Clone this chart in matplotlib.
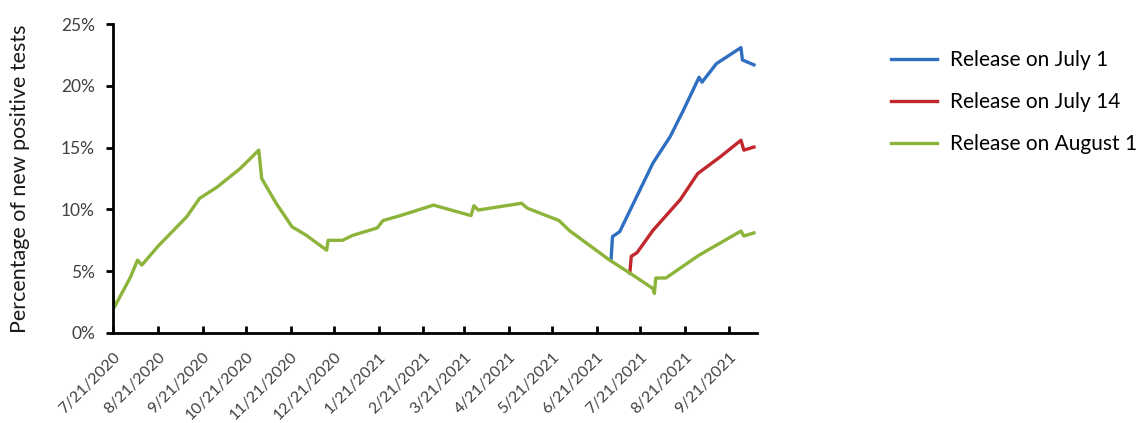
import matplotlib
matplotlib.use("Agg")
import matplotlib.pyplot as plt
import numpy as np

plt.rcParams['font.family'] = ['Lato', 'DejaVu Sans']

# values (percent of new positive tests)
green_dates = ['2020-07-21', '2020-07-22', '2020-08-02', '2020-08-07', '2020-08-10',
               '2020-08-21', '2020-09-10', '2020-09-19', '2020-10-01', '2020-10-17',
               '2020-10-30', '2020-11-01', '2020-11-11', '2020-11-22', '2020-12-02',
               '2020-12-16', '2020-12-17', '2020-12-27', '2021-01-03', '2021-01-20',
               '2021-01-24', '2021-02-05', '2021-02-28', '2021-03-26', '2021-03-28',
               '2021-03-31', '2021-04-30', '2021-05-04', '2021-05-26', '2021-06-02',
               '2021-06-30', '2021-07-14', '2021-07-30', '2021-07-31', '2021-08-01',
               '2021-08-08', '2021-08-31', '2021-09-29', '2021-10-01', '2021-10-08']
green_vals = [2.9, 2.1, 4.5, 5.9, 5.5,
              7.0, 9.4, 10.9, 11.8, 13.3,
              14.8, 12.5, 10.5, 8.6, 7.9,
              6.7, 7.5, 7.5, 7.9, 8.5,
              9.1, 9.5, 10.35, 9.5, 10.3,
              9.95, 10.5, 10.1, 9.1, 8.3,
              5.9, 4.85, 3.6, 3.2, 4.45,
              4.45, 6.3, 8.25, 7.85, 8.1]

blue_dates = ['2021-07-01', '2021-07-02', '2021-07-07', '2021-07-30', '2021-08-11',
              '2021-08-20', '2021-08-31', '2021-09-02', '2021-09-12', '2021-09-29',
              '2021-09-30', '2021-10-08']
blue_vals = [5.9, 7.8, 8.2, 13.75, 15.9,
             18.0, 20.7, 20.3, 21.8, 23.1,
             22.1, 21.7]

red_dates = ['2021-07-14', '2021-07-15', '2021-07-19', '2021-07-30', '2021-08-18',
             '2021-08-30', '2021-09-14', '2021-09-29', '2021-10-01', '2021-10-08']
red_vals = [4.85, 6.2, 6.5, 8.3, 10.8,
            12.9, 14.2, 15.6, 14.8, 15.05]

tick_dates = ['2020-07-21', '2020-08-21', '2020-09-21', '2020-10-21', '2020-11-21',
              '2020-12-21', '2021-01-21', '2021-02-21', '2021-03-21', '2021-04-21',
              '2021-05-21', '2021-06-21', '2021-07-21', '2021-08-21', '2021-09-21']
tick_labels = ['7/21/2020', '8/21/2020', '9/21/2020', '10/21/2020', '11/21/2020',
               '12/21/2020', '1/21/2021', '2/21/2021', '3/21/2021', '4/21/2021',
               '5/21/2021', '6/21/2021', '7/21/2021', '8/21/2021', '9/21/2021']

fig = plt.figure(figsize=(11.45, 4.23), dpi=100)
ax = fig.add_axes([0.0987, 0.2128, 0.5623, 0.7302])

ax.plot(np.array(blue_dates, dtype='datetime64[D]'), blue_vals, color='#2f6fc2', linewidth=2.4,
        label='Release on July 1')
ax.plot(np.array(red_dates, dtype='datetime64[D]'), red_vals, color='#c1272d', linewidth=2.4,
        label='Release on July 14')
ax.plot(np.array(green_dates, dtype='datetime64[D]'), green_vals, color='#8cb43a', linewidth=2.4,
        label='Release on August 1')

ax.set_xlim(np.datetime64('2020-07-21'), np.datetime64('2021-10-10'))
ax.set_ylim(0, 25)
ax.set_yticks([0, 5, 10, 15, 20, 25])
ax.set_yticklabels(['0%', '5%', '10%', '15%', '20%', '25%'], fontsize=12.5, color='#404040')
ax.set_xticks(np.array(tick_dates, dtype='datetime64[D]'))
ax.set_xticklabels(tick_labels, rotation=45, ha='right', rotation_mode='anchor',
                   fontsize=11.5, color='#404040')
ax.tick_params(axis='x', direction='in', length=5, width=2, pad=12)
ax.tick_params(axis='y', direction='out', length=5, width=2, pad=8)
ax.set_ylabel('Percentage of new positive tests', fontsize=15.5, color='#1a1a1a', labelpad=22)

for s in ['top', 'right']:
    ax.spines[s].set_visible(False)
for s in ['left', 'bottom']:
    ax.spines[s].set_linewidth(2)
    ax.spines[s].set_color('black')

fig.legend(loc='upper left', bbox_to_anchor=(0.762, 0.925), frameon=False, fontsize=15,
           handlelength=2.2, handletextpad=0.6, labelspacing=1.05)

plt.savefig('out.png', dpi=100)
